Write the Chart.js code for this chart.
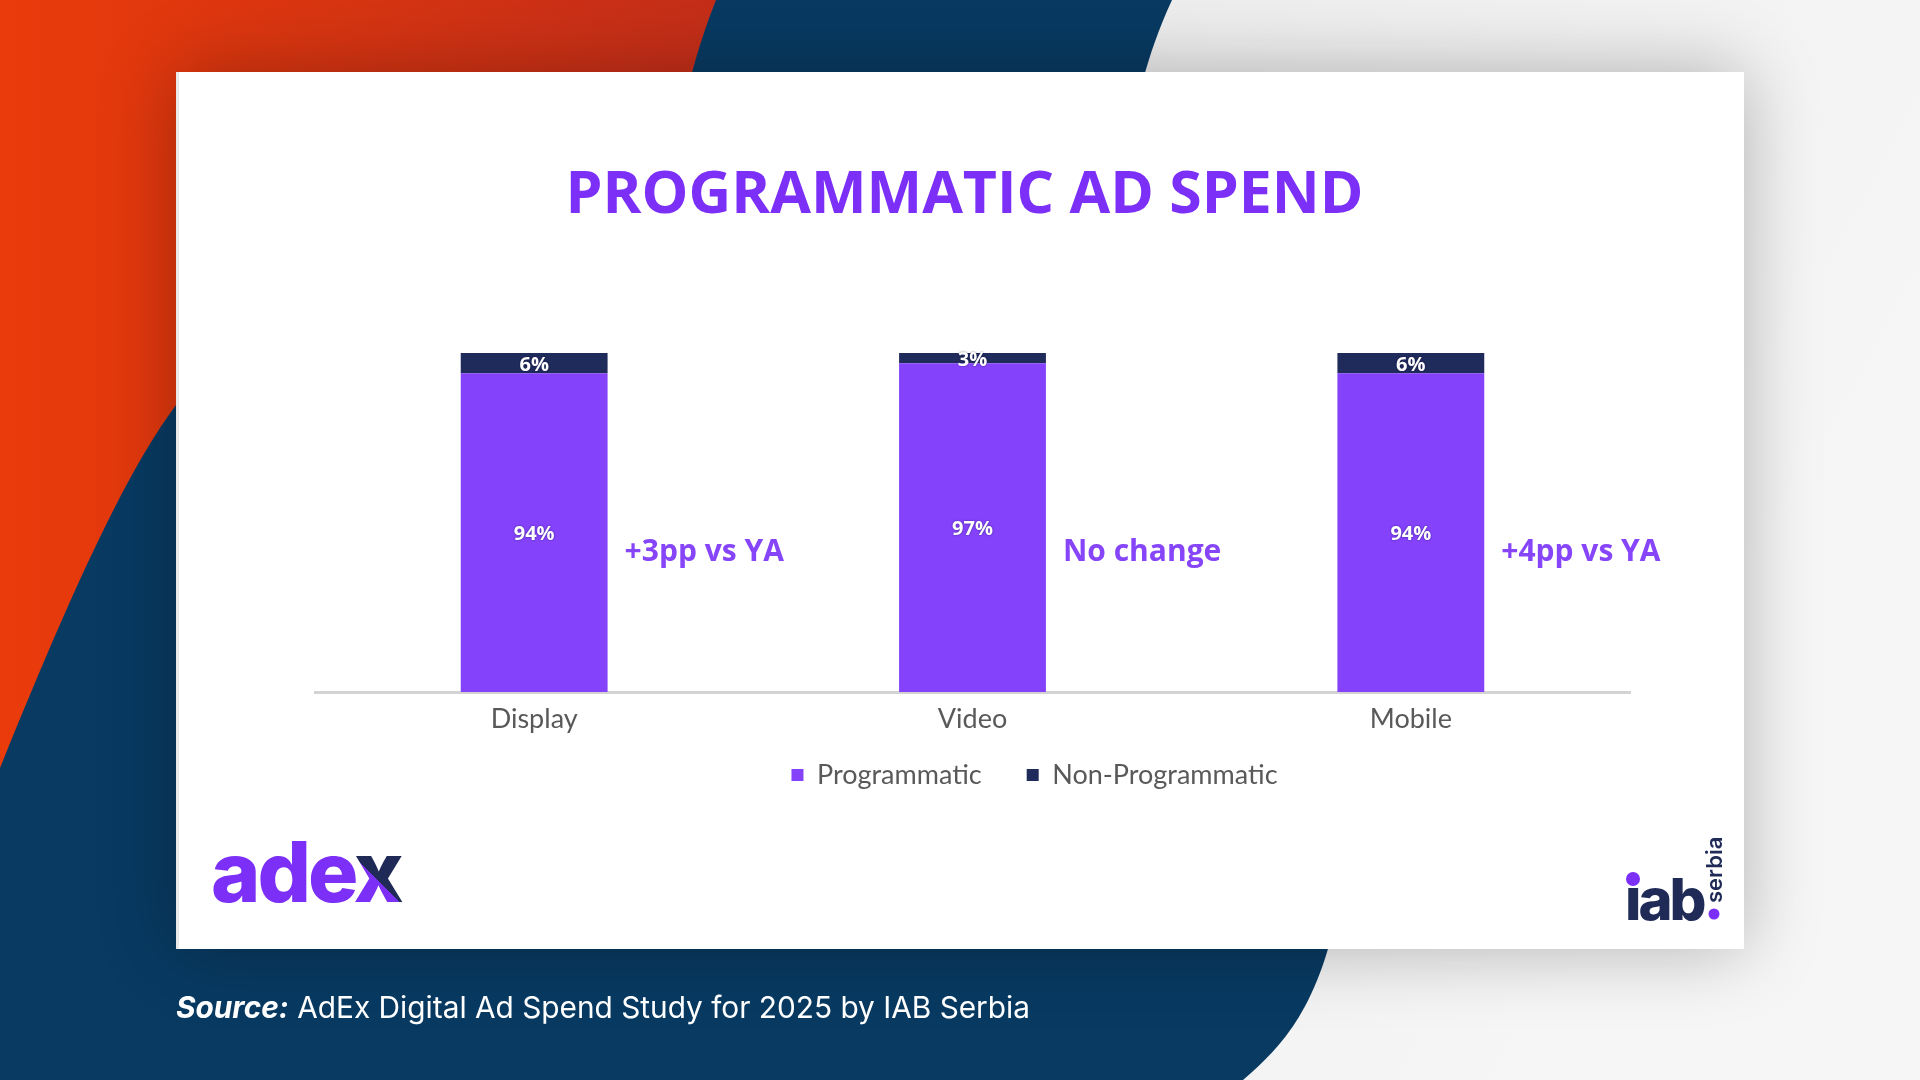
<!DOCTYPE html>
<html>
<head>
<meta charset="utf-8">
<script src="https://cdn.jsdelivr.net/npm/chart.js@4.4.1/dist/chart.umd.min.js"></script>
<style>
  html, body { margin: 0; padding: 0; width: 1920px; height: 1080px; overflow: hidden; background: #e8e8e8; }
  #bg { position: absolute; left: 0; top: 0; }
  #card { position: absolute; left: 176px; top: 72px; width: 1568px; height: 877px; background: #ffffff;
          box-shadow: 0 0 70px rgba(0,0,0,0.28); border-left: 3px solid #e9e9e9; box-sizing: border-box; }
  #chart { position: absolute; left: -3px; top: 0; }
  #overlay { position: absolute; left: 0; top: 0; pointer-events: none; }
</style>
</head>
<body>
<svg id="bg" width="1920" height="1080" xmlns="http://www.w3.org/2000/svg">
  <defs>
    <linearGradient id="grayGrad" x1="0" y1="0" x2="1" y2="0.3">
      <stop offset="0" stop-color="#e2e2e2"/>
      <stop offset="1" stop-color="#f6f6f6"/>
    </linearGradient>
    <linearGradient id="redGrad" x1="0" y1="0" x2="1" y2="0">
      <stop offset="0" stop-color="#ea3b0b"/>
      <stop offset="1" stop-color="#c42e19"/>
    </linearGradient>
  </defs>
  <rect x="0" y="0" width="1920" height="1080" fill="url(#grayGrad)"/>
  <path d="M0,0 L1172,0 C1158,30 1150,55 1143,80 L1340,900 C1320,1000 1290,1040 1243,1080 L0,1080 Z" fill="#083a62"/>
  <path d="M0,0 L716,0 C706,25 698,50 690,80 L176,405 C120,480 60,620 0,768 Z" fill="url(#redGrad)"/>
</svg>

<div id="card"><canvas id="chart" width="1568" height="877"></canvas></div>

<svg id="overlay" width="1920" height="1080" xmlns="http://www.w3.org/2000/svg">
  <defs>
    <linearGradient id="xGrad" gradientUnits="userSpaceOnUse" x1="360" y1="902" x2="402" y2="860">
      <stop offset="0.47" stop-color="#7b2ff7"/>
      <stop offset="0.47" stop-color="#1f2a57"/>
    </linearGradient>
  </defs>
  <text x="211" y="902" font-family="Inter" font-weight="800" font-size="84" letter-spacing="-3" fill="#7b2ff7">ade<tspan fill="url(#xGrad)">x</tspan></text>
  <text x="1625" y="920" font-family="Inter" font-weight="800" font-size="58" letter-spacing="-3" fill="#1f2a57">ıab</text>
  <circle cx="1633" cy="879" r="7" fill="#7b2ff7"/>
  <circle cx="1714" cy="914" r="5.5" fill="#7b2ff7"/>
  <text transform="translate(1722,903) rotate(-90)" font-family="Inter" font-weight="600" font-size="22" fill="#1f2a57">serbia</text>
  <text x="176" y="1018" font-family="Inter" font-size="29.8" fill="#ffffff"><tspan font-weight="700" font-style="italic">Source:</tspan> AdEx Digital Ad Spend Study for 2025 by IAB Serbia</text>
</svg>

<script>
// ---- data ----
const categories = ['Display', 'Video', 'Mobile'];
const seriesNames = ['Programmatic', 'Non-Programmatic'];
const programmatic = [94, 97, 94];
const nonProgrammatic = [6, 3, 6];
const changeNotes = ['+3pp vs YA', 'No change', '+4pp vs YA'];
const chartTitle = 'PROGRAMMATIC AD SPEND';

// ---- plugins ----
const barLabels = {
  id: 'barLabels',
  afterDatasetsDraw(chart) {
    const ctx = chart.ctx;
    ctx.save();
    ctx.font = '700 20px "Open Sans"';
    ctx.textAlign = 'center';
    ctx.textBaseline = 'middle';
    ctx.fillStyle = '#ffffff';
    ctx.shadowColor = 'rgba(20,10,60,0.6)';
    ctx.shadowBlur = 2;
    chart.data.datasets.forEach((ds, di) => {
      const meta = chart.getDatasetMeta(di);
      meta.data.forEach((el, i) => {
        const p = el.getProps(['x', 'y', 'base'], true);
        ctx.fillText(ds.data[i] + '%', p.x, (p.y + p.base) / 2 + 2);
      });
    });
    ctx.restore();
  }
};

const notes = {
  id: 'notes',
  afterDatasetsDraw(chart, args, opts) {
    const ctx = chart.ctx;
    const meta = chart.getDatasetMeta(0);
    const y = chart.scales.y.getPixelForValue(opts.level);
    ctx.save();
    ctx.font = '700 30px "Open Sans"';
    ctx.fillStyle = opts.color;
    ctx.textAlign = 'left';
    ctx.textBaseline = 'middle';
    meta.data.forEach((el, i) => {
      ctx.fillText(changeNotes[i], el.x + el.width / 2 + opts.gap, y);
    });
    ctx.restore();
  }
};

const boxShift = {
  id: 'boxShift',
  afterLayout(chart, args, opts) {
    const L = chart.legend;
    if (L) {
      L.left += opts.legendDx; L.right += opts.legendDx;
      L.top += opts.legendDy; L.bottom += opts.legendDy;
    }
    const T = chart.titleBlock;
    if (T) { T.left += opts.titleDx; T.right += opts.titleDx; }
  }
};

new Chart(document.getElementById('chart'), {
  type: 'bar',
  data: {
    labels: categories,
    datasets: [
      { label: seriesNames[0], data: programmatic, backgroundColor: '#8442fb', borderWidth: 0 },
      { label: seriesNames[1], data: nonProgrammatic, backgroundColor: '#1f2b5b', borderWidth: 0 }
    ]
  },
  plugins: [barLabels, notes, boxShift],
  options: {
    responsive: false,
    animation: false,
    devicePixelRatio: 1,
    categoryPercentage: 1,
    barPercentage: 0.335,
    layout: { padding: { left: 139, right: 114, top: 0, bottom: 120.6 } },
    scales: {
      x: {
        stacked: true,
        grid: { display: false, drawTicks: false },
        border: { display: true, color: '#d3d3d3', width: 3 },
        ticks: { color: '#595959', font: { family: 'Lato', size: 27 }, padding: 11 }
      },
      y: {
        stacked: true,
        display: false,
        min: 0,
        max: 100
      }
    },
    plugins: {
      title: {
        display: true,
        text: chartTitle,
        color: '#7b2ff7',
        font: { family: 'Open Sans', weight: '700', size: 59, lineHeight: 1.2 },
        padding: { top: 89, bottom: 121.2 }
      },
      legend: {
        display: true,
        position: 'bottom',
        labels: {
          color: '#595959',
          font: { family: 'Lato', size: 27 },
          boxWidth: 12,
          boxHeight: 12,
          padding: 45
        }
      },
      tooltip: { enabled: false },
      notes: { level: 41.3, gap: 17, color: '#8645f8' },
      boxShift: { legendDx: 62, legendDy: -30, titleDx: -8 }
    }
  }
});
</script>
</body>
</html>
